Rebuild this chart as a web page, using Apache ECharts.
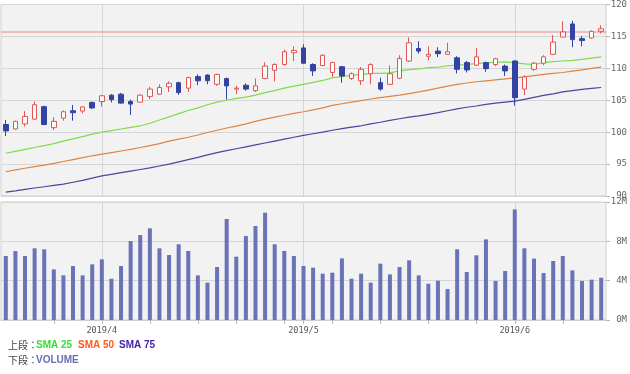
<!DOCTYPE html>
<html>
<head>
<meta charset="utf-8">
<script src="https://cdn.jsdelivr.net/npm/echarts@6/dist/echarts.min.js"></script>
<style>
html,body{margin:0;padding:0;background:#fff;}
#chart{width:630px;height:374px;}
</style>
</head>
<body>
<div id="chart"></div>
<script>
// ---- data ----
const dates = [
 '2019-03-18','2019-03-19','2019-03-20','2019-03-21','2019-03-22',
 '2019-03-25','2019-03-26','2019-03-27','2019-03-28','2019-03-29',
 '2019-04-01','2019-04-02','2019-04-03','2019-04-04','2019-04-05',
 '2019-04-08','2019-04-09','2019-04-10','2019-04-11','2019-04-12',
 '2019-04-15','2019-04-16','2019-04-17','2019-04-18',
 '2019-04-22','2019-04-23','2019-04-24','2019-04-25','2019-04-26',
 '2019-04-29','2019-04-30','2019-05-01','2019-05-02','2019-05-03',
 '2019-05-06','2019-05-07','2019-05-08','2019-05-09','2019-05-10',
 '2019-05-13','2019-05-14','2019-05-15','2019-05-16','2019-05-17',
 '2019-05-20','2019-05-21','2019-05-22','2019-05-23','2019-05-24',
 '2019-05-28','2019-05-29','2019-05-30','2019-05-31',
 '2019-06-03','2019-06-04','2019-06-05','2019-06-06','2019-06-07',
 '2019-06-10','2019-06-11','2019-06-12','2019-06-13','2019-06-14'
];
const opens = [101.2,100.5,101.3,102.05,104.0,100.7,102.2,103.35,103.3,104.65,
 104.8,105.8,105.95,104.8,104.7,105.6,105.95,107.1,107.75,106.9,
 108.7,108.95,107.5,108.4,106.75,107.35,106.5,108.4,109.7,110.6,
 112.45,113.2,110.6,110.45,109.35,110.25,108.4,108.05,109.15,107.75,
 107.5,108.45,111.15,113.1,111.9,112.7,112.2,111.65,110.9,110.5,
 110.9,110.6,110.35,111.15,106.75,109.85,110.8,112.2,114.9,116.95,
 114.65,114.75,115.8];
const closes = [100.2,101.7,102.45,104.3,101.2,101.7,103.2,103.05,103.95,103.8,
 105.7,105.1,104.55,104.4,105.8,106.75,107.0,107.65,106.2,108.55,
 108.05,108.05,109.05,107.25,106.9,106.75,107.25,110.35,110.6,112.6,
 112.8,110.8,109.6,112.05,110.9,108.8,109.15,109.85,110.6,106.75,
 109.15,111.55,114.0,112.7,112.2,112.3,112.6,109.85,109.75,111.8,
 109.95,111.5,109.6,105.4,108.65,110.8,111.8,114.1,115.7,114.5,
 114.35,115.8,116.2];
const lows = [99.4,100.4,100.9,101.9,101.1,100.35,101.8,101.8,102.95,103.6,
 104.0,104.65,104.5,102.7,104.65,105.2,105.85,106.3,105.85,106.3,
 107.35,107.5,107.25,105.1,105.95,106.5,106.3,108.3,107.95,110.45,
 111.15,110.75,108.8,110.35,108.65,107.75,108.2,107.4,107.5,106.5,
 107.4,108.3,111.0,112.3,111.25,111.75,112.1,109.2,109.35,110.35,
 109.45,110.35,108.8,104.15,105.8,109.6,110.5,112.1,114.85,113.3,
 113.45,114.65,115.45];
const highs = [101.9,101.8,103.3,104.8,104.15,102.35,103.4,104.25,104.1,104.8,
 105.85,105.95,106.15,105.1,105.95,107.1,107.5,107.95,107.9,108.7,
 109.05,109.05,109.15,108.55,107.25,107.65,108.4,110.95,110.8,112.95,
 113.45,113.75,110.8,112.2,111.05,110.35,109.35,110.2,110.8,108.55,
 110.45,112.05,114.85,114.25,113.45,113.3,114.0,111.9,111.15,113.2,
 111.05,111.65,110.6,111.25,108.9,111.0,112.05,115.2,117.35,117.45,
 115.05,115.95,116.75];
const sma25 = [96.7,97.0,97.3,97.6,97.9,98.2,98.6,98.95,99.3,99.7,
 100.0,100.25,100.5,100.75,101.0,101.4,101.9,102.4,102.9,103.4,
 103.8,104.3,104.7,105.0,105.3,105.5,105.8,106.2,106.5,106.9,
 107.2,107.5,107.8,108.1,108.5,108.7,108.9,109.0,109.2,109.2,
 109.3,109.6,109.8,109.9,110.1,110.2,110.4,110.5,110.6,110.75,
 110.85,110.95,111.0,110.9,110.7,110.6,110.9,111.05,111.15,111.25,
 111.4,111.6,111.8];
const sma50 = [93.8,94.1,94.35,94.6,94.85,95.1,95.4,95.7,96.0,96.3,
 96.55,96.8,97.05,97.3,97.6,97.9,98.2,98.6,98.9,99.2,
 99.55,99.95,100.3,100.65,100.95,101.3,101.7,102.05,102.35,102.65,
 102.95,103.2,103.5,103.8,104.2,104.45,104.7,104.95,105.2,105.4,
 105.6,105.8,106.05,106.3,106.6,106.9,107.2,107.5,107.7,107.9,
 108.05,108.2,108.35,108.5,108.65,108.85,109.05,109.2,109.35,109.55,
 109.75,110.0,110.2];
const sma75 = [90.6,90.8,91.05,91.25,91.45,91.65,91.85,92.15,92.45,92.8,
 93.15,93.4,93.65,93.9,94.15,94.4,94.7,95.0,95.35,95.7,
 96.05,96.45,96.8,97.1,97.4,97.7,98.0,98.3,98.6,98.9,
 99.2,99.5,99.75,100.0,100.3,100.55,100.8,101.0,101.3,101.55,
 101.85,102.1,102.35,102.55,102.8,103.05,103.35,103.65,103.9,104.1,
 104.35,104.55,104.7,104.85,105.15,105.45,105.75,106.0,106.3,106.5,
 106.7,106.85,107.0];
const volumesM = [6.51,7.02,6.51,7.29,7.19,5.15,4.54,5.49,4.54,5.66,
 6.17,4.2,5.49,8.03,8.64,9.32,7.29,6.61,7.7,7.02,
 4.54,3.8,5.39,10.27,6.44,8.54,9.56,10.91,7.7,7.02,
 6.51,5.49,5.32,4.71,4.81,6.27,4.2,4.71,3.8,5.73,
 4.64,5.39,6.07,4.54,3.69,4.0,3.15,7.19,4.88,6.58,
 8.2,3.97,4.98,11.25,7.29,6.24,4.78,6.0,6.51,5.05,
 3.97,4.1,4.3];
const referencePrice = 115.8;
const priceMin = 90, priceMax = 120, priceStep = 5;
const volMin = 0, volMax = 12, volStep = 4;
const legendTop = ['上段：', 'SMA 25', 'SMA 50', 'SMA 75'];
const legendBottom = ['下段：', 'VOLUME'];

// ---- helpers ----
const candleData = dates.map((d, i) => [opens[i], closes[i], lows[i], highs[i]]);
function monthStart(i) {
  return i > 0 && dates[i].slice(0, 7) !== dates[i - 1].slice(0, 7);
}
function weekStart(i) {
  if (i === 0) return false;
  const a = new Date(dates[i - 1] + 'T00:00:00Z');
  const b = new Date(dates[i] + 'T00:00:00Z');
  return b.getUTCDay() <= a.getUTCDay() || (b - a) > 3 * 86400000;
}
const monthDates = dates.filter((d, i) => monthStart(i));
const monoFont = '"DejaVu Sans Mono", "Liberation Mono", monospace';
const gridLine = '#d6d6d6';
const monthMarks = {
  silent: true, z: 1, symbol: ['none', 'none'], label: {show: false},
  lineStyle: {color: gridLine, width: 1, type: 'solid'},
  data: monthDates.map(d => ({xAxis: d}))
};

const chart = echarts.init(document.getElementById('chart'), null, {renderer: 'canvas'});
chart.setOption({
  animation: false,
  backgroundColor: '#ffffff',
  grid: [
    {left: 1, right: 24, top: 3, height: 193, show: true, backgroundColor: '#f2f2f2', borderColor: '#cfcfcf', borderWidth: 1},
    {left: 1, right: 24, top: 202, height: 118, show: true, backgroundColor: '#f2f2f2', borderColor: '#cfcfcf', borderWidth: 1}
  ],
  xAxis: [
    {
      type: 'category', gridIndex: 0, data: dates, boundaryGap: true,
      axisLine: {show: false}, axisTick: {show: false}, axisLabel: {show: false},
      splitLine: {show: false}
    },
    {
      type: 'category', gridIndex: 1, data: dates, boundaryGap: true,
      axisLine: {show: true, lineStyle: {color: '#cfcfcf'}},
      axisTick: {show: true, alignWithLabel: true, length: 4, interval: (i) => weekStart(i) || monthStart(i), lineStyle: {color: '#b8b8b8'}},
      axisLabel: {
        show: true, interval: (i) => monthStart(i), margin: 6,
        fontFamily: monoFont, fontSize: 8.5, color: '#555',
        formatter: (v) => v.slice(0, 4) + '/' + parseInt(v.slice(5, 7), 10)
      },
      splitLine: {show: false}
    }
  ],
  yAxis: [
    {
      type: 'value', gridIndex: 0, position: 'right', min: priceMin, max: priceMax, interval: priceStep,
      axisLine: {show: false},
      axisTick: {show: true, length: 4, lineStyle: {color: '#b8b8b8'}},
      axisLabel: {show: true, align: 'right', margin: 21, fontFamily: monoFont, fontSize: 9, color: '#666'},
      splitLine: {show: true, lineStyle: {color: gridLine, width: 1}}
    },
    {
      type: 'value', gridIndex: 1, position: 'right', min: volMin, max: volMax, interval: volStep,
      axisLine: {show: false},
      axisTick: {show: true, length: 4, lineStyle: {color: '#b8b8b8'}},
      axisLabel: {show: true, align: 'right', margin: 21, fontFamily: monoFont, fontSize: 9, color: '#666', formatter: (v) => v + 'M'},
      splitLine: {show: true, lineStyle: {color: gridLine, width: 1}}
    }
  ],
  series: [
    {
      name: 'SMA 75', type: 'line', xAxisIndex: 0, yAxisIndex: 0, data: sma75,
      symbol: 'none', lineStyle: {color: '#5a3d9e', width: 1.2}, z: 2,
      markLine: monthMarks
    },
    {
      name: 'SMA 50', type: 'line', xAxisIndex: 0, yAxisIndex: 0, data: sma50,
      symbol: 'none', lineStyle: {color: '#dd8546', width: 1.2}, z: 2
    },
    {
      name: 'SMA 25', type: 'line', xAxisIndex: 0, yAxisIndex: 0, data: sma25,
      symbol: 'none', lineStyle: {color: '#7fdc4a', width: 1.2}, z: 2
    },
    {
      name: 'price', type: 'candlestick', xAxisIndex: 0, yAxisIndex: 0, data: candleData,
      barWidth: 5, z: 3,
      itemStyle: {color: '#ffffff', color0: '#3343a3', borderColor: '#e05555', borderColor0: '#3343a3', borderWidth: 1},
      markLine: {
        silent: true, z: 2, symbol: ['none', 'none'], label: {show: false},
        lineStyle: {color: '#f0a8a8', width: 1.5, type: 'solid'},
        data: [{yAxis: referencePrice}]
      }
    },
    {
      name: 'monthLinesVol', type: 'line', xAxisIndex: 1, yAxisIndex: 1,
      data: dates.map(() => null), symbol: 'none', z: 1,
      markLine: monthMarks
    },
    {
      name: 'VOLUME', type: 'bar', xAxisIndex: 1, yAxisIndex: 1, data: volumesM,
      barWidth: 4, itemStyle: {color: '#6a72b8'}, z: 3
    }
  ],
  graphic: [
    {type: 'text', left: 8, top: 340, style: {text: legendTop[0], fill: '#444', font: '10px "Noto Sans CJK JP", sans-serif'}},
    {type: 'text', left: 36, top: 340, style: {text: legendTop[1], fill: '#33e033', font: 'bold 10px "Liberation Sans", Arial, sans-serif'}},
    {type: 'text', left: 78, top: 340, style: {text: legendTop[2], fill: '#ff5a1e', font: 'bold 10px "Liberation Sans", Arial, sans-serif'}},
    {type: 'text', left: 119, top: 340, style: {text: legendTop[3], fill: '#4422aa', font: 'bold 10px "Liberation Sans", Arial, sans-serif'}},
    {type: 'text', left: 8, top: 355, style: {text: legendBottom[0], fill: '#444', font: '10px "Noto Sans CJK JP", sans-serif'}},
    {type: 'text', left: 36, top: 355, style: {text: legendBottom[1], fill: '#6670b0', font: 'bold 10px "Liberation Sans", Arial, sans-serif'}}
  ]
});
</script>
</body>
</html>
